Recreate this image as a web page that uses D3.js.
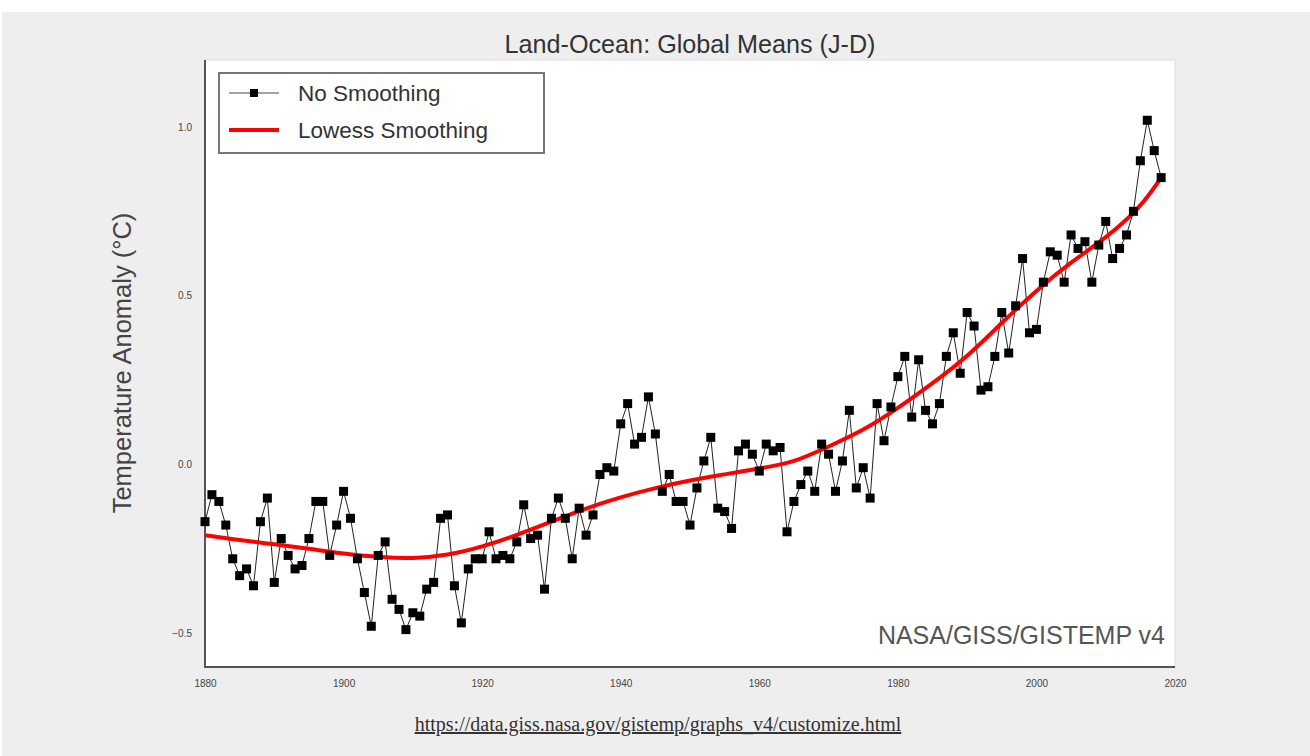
<!DOCTYPE html>
<html><head><meta charset="utf-8">
<script src="https://cdn.jsdelivr.net/npm/d3@7"></script>
<style>html,body{margin:0;padding:0;background:#fff;overflow:hidden}</style>
</head><body>
<svg id="c" width="1310" height="756"></svg>
<script>
const years = d3.range(1880, 2019);
const anomalies = [
 -0.17,-0.09,-0.11,-0.18,-0.28,-0.33,-0.31,-0.36,-0.17,-0.10,
 -0.35,-0.22,-0.27,-0.31,-0.30,-0.22,-0.11,-0.11,-0.27,-0.18,
 -0.08,-0.16,-0.28,-0.38,-0.48,-0.27,-0.23,-0.40,-0.43,-0.49,
 -0.44,-0.45,-0.37,-0.35,-0.16,-0.15,-0.36,-0.47,-0.31,-0.28,
 -0.28,-0.20,-0.28,-0.27,-0.28,-0.23,-0.12,-0.22,-0.21,-0.37,
 -0.16,-0.10,-0.16,-0.28,-0.13,-0.21,-0.15,-0.03,-0.01,-0.02,
 0.12,0.18,0.06,0.08,0.20,0.09,-0.08,-0.03,-0.11,-0.11,
 -0.18,-0.07,0.01,0.08,-0.13,-0.14,-0.19,0.04,0.06,0.03,
 -0.02,0.06,0.04,0.05,-0.20,-0.11,-0.06,-0.02,-0.08,0.06,
 0.03,-0.08,0.01,0.16,-0.07,-0.01,-0.10,0.18,0.07,0.17,
 0.26,0.32,0.14,0.31,0.16,0.12,0.18,0.32,0.39,0.27,
 0.45,0.41,0.22,0.23,0.32,0.45,0.33,0.47,0.61,0.39,
 0.40,0.54,0.63,0.62,0.54,0.68,0.64,0.66,0.54,0.65,
 0.72,0.61,0.64,0.68,0.75,0.90,1.02,0.93,0.85];
const lowessYears = [1880,1885,1890,1895,1900,1905,1910,1915,1920,1925,1930,1935,1940,1945,1950,1955,1960,1965,1970,1975,1980,1985,1990,1995,2000,2005,2010,2015,2018];
const lowessValues = [-0.21,-0.225,-0.237,-0.25,-0.265,-0.275,-0.28,-0.27,-0.245,-0.21,-0.17,-0.13,-0.097,-0.07,-0.047,-0.03,-0.012,0.005,0.053,0.10,0.166,0.24,0.318,0.42,0.516,0.60,0.67,0.76,0.85];
const xTicks = [1880,1900,1920,1940,1960,1980,2000,2020];
const yTicks = [-0.5,0.0,0.5,1.0];
const titleText = "Land-Ocean: Global Means (J-D)";
const yLabel = "Temperature Anomaly (°C)";
const legendLabels = ["No Smoothing","Lowess Smoothing"];
const sourceText = "NASA/GISS/GISTEMP v4";
const urlText = "https://data.giss.nasa.gov/gistemp/graphs_v4/customize.html";

const svg = d3.select("#c");
const L=205, R=1175, T=60, B=667;
const SANS = "Liberation Sans, Arial, sans-serif";
svg.append("rect").attr("x",2).attr("y",12).attr("width",1308).attr("height",744).attr("fill","#eeeeee");
svg.append("rect").attr("x",L).attr("y",T).attr("width",R-L).attr("height",B-T).attr("fill","#fff").attr("stroke","#dddddd").attr("stroke-width",1);

const x = d3.scaleLinear().domain([1880,2020]).range([L,R]);
const y = d3.scaleLinear().domain([-0.5,1.0]).range([633,127]);

// axes
const xAxis = d3.axisBottom(x).tickValues(xTicks).tickFormat(d3.format("d")).tickSize(0).tickPadding(13);
const gx = svg.append("g").attr("transform",`translate(0,${B})`).call(xAxis);
gx.select(".domain").remove();
gx.selectAll("text").attr("font-family",SANS).attr("font-size",10).attr("fill","#444");
const yAxis = d3.axisLeft(y).tickValues(yTicks).tickFormat(d3.format(".1f")).tickSize(0).tickPadding(13);
const gy = svg.append("g").attr("transform",`translate(${L},0)`).call(yAxis);
gy.select(".domain").remove();
gy.selectAll("text").attr("font-family",SANS).attr("font-size",10).attr("fill","#444");
svg.append("line").attr("x1",L).attr("x2",L).attr("y1",T).attr("y2",B+1).attr("stroke","#555").attr("stroke-width",2);
svg.append("line").attr("x1",L).attr("x2",R).attr("y1",B).attr("y2",B).attr("stroke","#555").attr("stroke-width",2);

// title & labels
svg.append("text").attr("x",690).attr("y",53).attr("text-anchor","middle").attr("font-family",SANS).attr("font-size",25.2).attr("fill","#333").text(titleText);
svg.append("text").attr("transform","translate(131,363) rotate(-90)").attr("text-anchor","middle").attr("font-family",SANS).attr("font-size",25.5).attr("fill","#444").text(yLabel);
svg.append("text").attr("x",1165).attr("y",644).attr("text-anchor","end").attr("font-family",SANS).attr("font-size",25).attr("fill","#555").text(sourceText);
svg.append("text").attr("x",658).attr("y",731).attr("text-anchor","middle").attr("font-family","Liberation Serif, Times New Roman, serif").attr("font-size",20).attr("fill","#333").attr("text-decoration","underline").text(urlText);

// data line
const data = years.map((yr,i)=>({yr, v:anomalies[i]}));
svg.append("path").datum(data).attr("fill","none").attr("stroke","#222").attr("stroke-width",1)
  .attr("d", d3.line().x(d=>x(d.yr)).y(d=>y(d.v)));
const lw = lowessYears.map((yr,i)=>({yr, v:lowessValues[i]}));
svg.append("path").datum(lw).attr("fill","none").attr("stroke","#ff0000").attr("stroke-width",4)
  .attr("d", d3.line().curve(d3.curveBasis).x(d=>x(d.yr)).y(d=>y(d.v)));
const ms = 9;
svg.append("g").selectAll("rect").data(data).join("rect")
  .attr("x",d=>x(d.yr)-ms/2).attr("y",d=>y(d.v)-ms/2).attr("width",ms).attr("height",ms).attr("fill","#000");

// legend
const lg = svg.append("g");
lg.append("rect").attr("x",219).attr("y",73).attr("width",325).attr("height",80).attr("fill","#fff").attr("stroke","#777").attr("stroke-width",2);
lg.append("line").attr("x1",229).attr("x2",279).attr("y1",93).attr("y2",93).attr("stroke","#444").attr("stroke-width",1);
lg.append("rect").attr("x",250).attr("y",89).attr("width",8).attr("height",8).attr("fill","#000");
lg.append("line").attr("x1",229).attr("x2",279).attr("y1",130).attr("y2",130).attr("stroke","#ff0000").attr("stroke-width",4);
lg.selectAll("text.lg").data(legendLabels).join("text").attr("class","lg")
  .attr("x",298).attr("y",(d,i)=>101+i*37).attr("font-family",SANS).attr("font-size",22.5).attr("fill","#333").text(d=>d);
</script>
</body></html>
